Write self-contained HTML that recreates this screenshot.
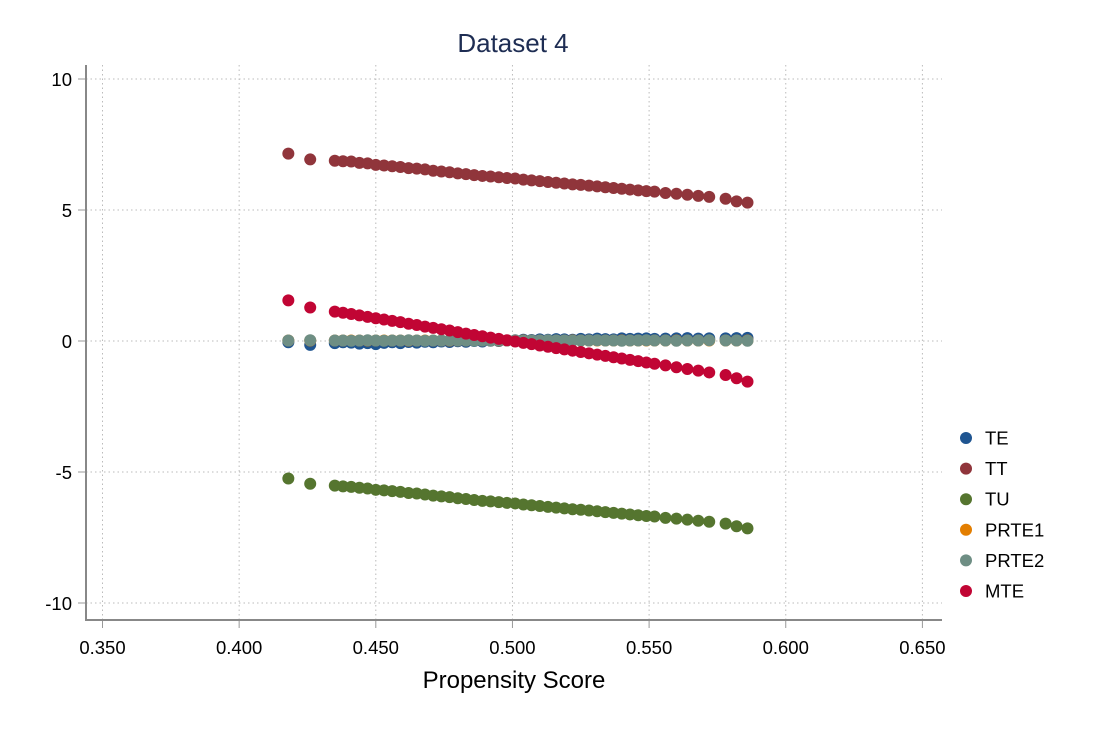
<!DOCTYPE html>
<html><head><meta charset="utf-8"><style>
body{margin:0;background:#fff;}
svg{font-family:"Liberation Sans",Arial,sans-serif;}
</style></head><body>
<svg id="chart" width="1099" height="732">
<rect width="1099" height="732" fill="#fff"/>
<text x="513" y="52" text-anchor="middle" font-size="26" fill="#1e2d53">Dataset 4</text>
<g id="grid"></g>
<g id="axes"></g>
<g id="marks"></g>
<g id="legend"></g>
<text x="514" y="688" text-anchor="middle" font-size="24" fill="#000">Propensity Score</text>
</svg>
<script>
const xTicks=[0.35,0.40,0.45,0.50,0.55,0.60,0.65];
const xTickLabels=["0.350","0.400","0.450","0.500","0.550","0.600","0.650"];
const yTicks=[10,5,0,-5,-10];
const yTickLabels=["10","5","0","-5","-10"];
const pscore=[0.418,0.426,0.435,0.438,0.441,0.444,0.447,0.450,0.453,0.456,0.459,0.462,0.465,0.468,0.471,0.474,0.477,0.480,0.483,0.486,0.489,0.492,0.495,0.498,0.501,0.504,0.507,0.510,0.513,0.516,0.519,0.522,0.525,0.528,0.531,0.534,0.537,0.540,0.543,0.546,0.549,0.552,0.556,0.560,0.564,0.568,0.572,0.578,0.582,0.586];
const te=[-0.05,-0.15,-0.08,-0.05,-0.06,-0.1,-0.08,-0.12,-0.07,-0.05,-0.08,-0.04,-0.06,-0.03,-0.05,-0.02,-0.04,-0.01,-0.03,0,-0.02,0.01,0,0.02,0.03,0.05,0.04,0.06,0.05,0.07,0.06,0.05,0.08,0.06,0.09,0.07,0.06,0.1,0.08,0.09,0.1,0.08,0.09,0.1,0.11,0.09,0.1,0.1,0.11,0.12];
const tt=[7.15,6.93,6.88,6.86,6.85,6.80,6.78,6.72,6.70,6.67,6.64,6.60,6.58,6.55,6.50,6.47,6.44,6.40,6.37,6.33,6.30,6.28,6.25,6.22,6.20,6.16,6.13,6.10,6.07,6.04,6.01,5.98,5.96,5.93,5.90,5.87,5.84,5.81,5.78,5.75,5.72,5.70,5.65,5.62,5.58,5.54,5.50,5.43,5.33,5.28];
const tu=[-5.25,-5.45,-5.52,-5.55,-5.57,-5.6,-5.63,-5.68,-5.7,-5.73,-5.76,-5.8,-5.82,-5.86,-5.9,-5.93,-5.96,-6.0,-6.03,-6.07,-6.1,-6.12,-6.15,-6.18,-6.2,-6.24,-6.27,-6.3,-6.33,-6.36,-6.39,-6.42,-6.44,-6.47,-6.5,-6.53,-6.56,-6.59,-6.62,-6.65,-6.68,-6.7,-6.75,-6.78,-6.82,-6.86,-6.9,-6.97,-7.07,-7.15];
const prte1=[0.02,0.02,0.02,0.02,0.02,0.02,0.02,0.02,0.02,0.02,0.02,0.02,0.02,0.02,0.02,0.02,0.02,0.02,0.02,0.02,0.02,0.02,0.02,0.02,0.02,0.02,0.02,0.02,0.02,0.02,0.02,0.02,0.02,0.02,0.02,0.02,0.02,0.02,0.02,0.02,0.02,0.02,0.02,0.02,0.02,0.02,0.02,0.02,0.02,0.02];
const prte2=[0.02,0.03,0.02,0.02,0.01,0.02,0.03,0.02,0.01,0.02,0.02,0.03,0.02,0.01,0.02,0.02,0.03,0.02,0.02,0.01,0.02,0.02,0.03,0.02,0.02,0.01,0.02,0.02,0.03,0.02,0.02,0.01,0.02,0.02,0.03,0.02,0.02,0.01,0.02,0.02,0.03,0.02,0.02,0.01,0.02,0.02,0.03,0.02,0.02,0.01];
const mte=[1.55,1.28,1.12,1.08,1.03,0.98,0.92,0.87,0.82,0.77,0.72,0.66,0.61,0.55,0.50,0.45,0.40,0.34,0.28,0.23,0.18,0.13,0.08,0.03,-0.02,-0.07,-0.12,-0.17,-0.22,-0.27,-0.32,-0.37,-0.42,-0.47,-0.52,-0.57,-0.62,-0.67,-0.72,-0.77,-0.82,-0.87,-0.93,-1.0,-1.07,-1.13,-1.2,-1.3,-1.42,-1.55];
const seriesNames=["TE","TT","TU","PRTE1","PRTE2","MTE"];
const seriesData=[te,tt,tu,prte1,prte2,mte];
const colors=["#1f5591","#90353b","#55752f","#e37e00","#6e8e84","#c10534"];

const NS="http://www.w3.org/2000/svg";
const X=v=>102.5+(v-0.35)*2733;
const Y=v=>341-v*26.2;
function mk(tag,attrs,parent){const e=document.createElementNS(NS,tag);for(const k in attrs)e.setAttribute(k,attrs[k]);parent.appendChild(e);return e;}
const grid=document.getElementById('grid'),axes=document.getElementById('axes'),marks=document.getElementById('marks'),legend=document.getElementById('legend');
xTicks.forEach((t,i)=>{
  const l=mk('line',{x1:X(t),x2:X(t),y1:65,y2:620,stroke:'#bbb','stroke-dasharray':'1.5,3'},grid);
  
  
  const tk=mk('line',{x1:X(t),x2:X(t),y1:620,y2:628,stroke:'#999'},axes);
  
  
  const tx=mk('text',{x:X(t),y:654,'text-anchor':'middle','font-size':'18.5'},axes);
  tx.textContent=xTickLabels[i];
  
  
});
yTicks.forEach((t,i)=>{
  const l=mk('line',{x1:86,x2:942,y1:Y(t),y2:Y(t),stroke:'#bbb','stroke-dasharray':'1.5,3'},grid);
  
  
  const tk=mk('line',{x1:78,x2:86,y1:Y(t),y2:Y(t),stroke:'#999'},axes);
  
  
  const tx=mk('text',{x:72,y:Y(t)+7,'text-anchor':'end','font-size':'18.5'},axes);
  tx.textContent=yTickLabels[i];
  
  
});
const ax=mk('path',{d:'M86,65 V620 H942',fill:'none',stroke:'#888','stroke-width':'2'},axes);


seriesData.forEach((s,si)=>{
  const g=mk('g',{fill:colors[si]},marks);
  
  
  s.forEach((v,i)=>{
    const c=mk('circle',{cx:X(pscore[i]),cy:Y(v),r:6},g);
    
    
  });
});
seriesNames.forEach((n,i)=>{
  const y=438+i*30.6;
  const g=mk('g',{},legend);
  
  
  mk('circle',{cx:966,cy:y,r:6,fill:colors[i]},g);
  const t=mk('text',{x:985,y:y+6.5,'font-size':'18.5'},g);
  t.textContent=n;
});
</script>
</body></html>
